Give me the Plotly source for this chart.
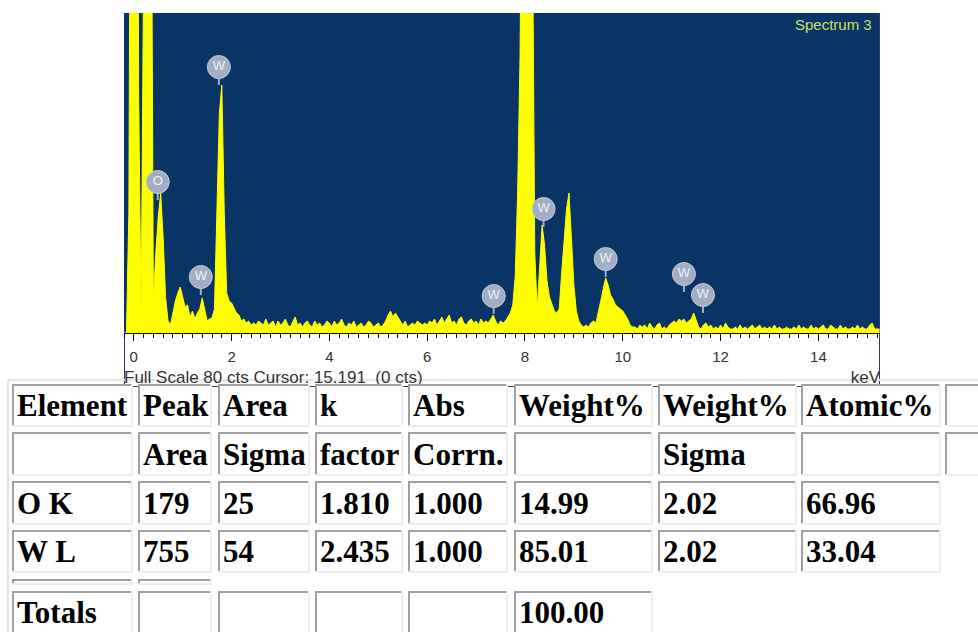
import numpy as np
import plotly.graph_objects as go

W, H = 978, 632

# ---------------- spectrum data ----------------
energy_start_kev = -0.2
channel_kev = 0.05
counts = [
    0, 0, 30, 200,
    260, 250, 60, 3, 90, 300, 300, 150, 8, 20, 29, 35, 24, 9, 3, 2, 5, 8, 10, 11.5,
    9, 6.5, 7, 4, 5.5, 3.5, 5, 6, 8.75, 6, 3, 3.5, 3.75, 6, 30, 55, 62, 30, 10, 8,
    7.5, 6, 5, 4.5, 3, 3.5, 2.5, 3, 2, 2.5, 2, 3, 2.5, 2, 3.5, 2, 2.5, 3, 1.5, 3,
    2, 2.5, 3.5, 2, 1.5, 3, 4, 2, 2.5, 1.5, 2.5, 3, 2, 1.5, 3, 2, 2.5, 1.5, 2, 3,
    2.5, 1.5, 3, 2, 2.5, 3.5, 2, 1.5, 2.5, 2, 3, 1.5, 2, 2.5, 1.5, 2, 3, 2.5, 1.5, 2,
    2.5, 1.5, 2, 3, 4.5, 5.5, 4, 5, 4, 3, 2, 3, 1.5, 2, 2.5, 2, 3, 2.5, 2, 2.5,
    2, 3, 2.5, 3.5, 2, 3, 4, 2.5, 3.5, 4.5, 2.5, 3, 2, 3.5, 4, 2.5, 2, 3, 3.5, 2.5,
    3, 2, 3.5, 2.5, 3, 2.5, 3.5, 4.5, 3, 2, 3, 2.5, 3, 4, 5, 7, 14, 35, 70, 150,
    180, 185, 160, 110, 20, 6, 16, 27, 22, 13, 9, 7, 5.5, 5, 6, 15, 24, 31, 35, 24,
    12, 5.5, 3, 2, 1.5, 2, 1.5, 2.5, 3, 2.5, 5, 8, 11, 13.75, 12, 9.5, 8.5, 7, 6.5, 6,
    5.5, 4.5, 3.5, 2, 1.5, 1.5, 1, 2, 1.5, 2, 1, 2.5, 1.5, 1, 2, 2.5, 1, 1.5, 1, 2,
    2.5, 3, 2.5, 3.5, 3, 3.5, 2.5, 3, 3.5, 5, 3, 1.5, 1, 2, 2.5, 1.5, 2, 1, 1.5, 1,
    2, 1, 2.5, 1.5, 1, 1, 1.5, 1, 2, 1, 1.5, 1, 1.5, 2, 1, 1.5, 2, 1, 1.5, 1,
    1.5, 1, 2, 1, 1.5, 1, 1, 1.5, 1, 1, 1.5, 1, 2, 1, 1.5, 1, 1, 2, 1, 1.5,
    1, 1.5, 2, 1, 1, 2, 1.5, 1, 1, 2, 1, 1.5, 1, 1, 1.5, 1, 2, 1, 1.5, 1,
    1, 2, 2.5, 1, 1, 1,
]
energies = energy_start_kev + channel_kev * np.arange(len(counts))

peak_labels = ["O", "W", "W", "W", "W", "W", "W", "W"]
peak_label_kev = [0.49, 1.74, 1.37, 7.36, 8.38, 9.65, 11.25, 11.64]
peak_label_cts = [37.75, 66.5, 14.0, 9.25, 31.0, 18.5, 14.75, 9.5]

x_tick_vals = [0, 2, 4, 6, 8, 10, 12, 14]
x_tick_text = ["0", "2", "4", "6", "8", "10", "12", "14"]

spectrum_name = "Spectrum 3"
full_scale_text = "Full Scale 80 cts Cursor: 15.191  (0 cts)"
unit_text = "keV"

# ---------------- table data ----------------
header_top = ["Element", "Peak", "Area", "k", "Abs", "Weight%", "Weight%", "Atomic%", ""]
header_sub = ["", "Area", "Sigma", "factor", "Corrn.", "", "Sigma", "", ""]
elements = ["O K", "W L"]
peak_area = ["179", "755"]
area_sigma = ["25", "54"]
k_factor = ["1.810", "2.435"]
abs_corrn = ["1.000", "1.000"]
weight_pct = ["14.99", "85.01"]
weight_sigma = ["2.02", "2.02"]
atomic_pct = ["66.96", "33.04"]
totals_row = ["Totals", "", "", "", "", "100.00"]

# ---------------- layout constants (pixels) ----------------
PLOT_L, PLOT_R, PLOT_T, PLOT_B = 124, 880, 13, 333
X_RANGE = [-0.2, 15.26]
Y_RANGE = [0, 80]
BLUE = "#0a3366"
YELLOW = "#ffff00"
MARK = "#a3aec2"
SANS = "Liberation Sans, Arial, sans-serif"


def px(x):
    return x / W


def py(y):
    return 1 - y / H


def cts_of_py(y):
    return (PLOT_B - y) * (Y_RANGE[1] - Y_RANGE[0]) / (PLOT_B - PLOT_T)


fig = go.Figure()

fig.add_trace(go.Scatter(
    x=energies, y=counts, mode="lines", fill="tozeroy",
    line=dict(color=YELLOW, width=1), fillcolor=YELLOW, hoverinfo="skip",
))

stem = cts_of_py(PLOT_B - 18)
fig.add_trace(go.Scatter(
    x=peak_label_kev, y=peak_label_cts, mode="markers+text", text=peak_labels,
    textposition="middle center",
    textfont=dict(family=SANS, size=13, color="#eef2f8"),
    marker=dict(size=23, color=MARK, line=dict(color="#c3cbd8", width=1)),
    error_y=dict(type="data", symmetric=False, array=[0] * len(peak_labels),
                 arrayminus=[stem] * len(peak_labels), color=MARK, thickness=2, width=0),
    hoverinfo="skip",
))

# strip texts on a full-page pixel overlay axis (plot layer, so table cells cover them)
fig.add_trace(go.Scatter(
    x=[PLOT_L], y=[379], xaxis="x2", yaxis="y2", mode="text", text=[full_scale_text],
    textposition="middle right",
    textfont=dict(family=SANS, size=17, color="#333333"),
    hoverinfo="skip",
))
fig.add_trace(go.Scatter(
    x=[PLOT_R], y=[379], xaxis="x2", yaxis="y2", mode="text", text=[unit_text],
    textposition="middle left",
    textfont=dict(family=SANS, size=17, color="#333333"),
    hoverinfo="skip",
))

shapes = []
# blue plotting background
shapes.append(dict(type="rect", xref="x domain", yref="y domain", x0=0, x1=1, y0=0, y1=1,
                   fillcolor=BLUE, line=dict(width=0), layer="below"))
# frame of the axis strip
FRAME = "#2b3d63"
for (x0, y0, x1, y1) in [(124.5, 333, 124.5, 387), (879.5, 13, 879.5, 387), (124, 386.5, 880, 386.5)]:
    shapes.append(dict(type="line", xref="paper", yref="paper", x0=px(x0), y0=py(y0),
                       x1=px(x1), y1=py(y1), line=dict(color=FRAME, width=1), layer="below"))
# outer table border (light)
OUTER = "#e6e6e6"
for (x0, y0, x1, y1) in [(8, 380, 978, 380), (8, 380, 8, 640)]:
    shapes.append(dict(type="line", xref="paper", yref="paper", x0=px(x0), y0=py(y0),
                       x1=px(x1), y1=py(y1), line=dict(color=OUTER, width=2), layer="below"))

col_edges = [(12, 133), (138, 212), (218, 310), (315, 403), (408, 508),
             (514, 653), (658, 797), (801, 941), (945, 990)]
row_edges = [(384, 427), (432, 476), (481, 525), (530, 573), (579, 585), (591, 634)]

table_rows = [
    header_top,
    header_sub,
    [elements[0], peak_area[0], area_sigma[0], k_factor[0], abs_corrn[0], weight_pct[0], weight_sigma[0], atomic_pct[0]],
    [elements[1], peak_area[1], area_sigma[1], k_factor[1], abs_corrn[1], weight_pct[1], weight_sigma[1], atomic_pct[1]],
    ["", ""],
    totals_row,
]

DARK = "#a0a0a0"
LIGHT = "#ededed"
annotations = []
for (r0, r1), row in zip(row_edges, table_rows):
    for (c0, c1), txt in zip(col_edges, row):
        shapes.append(dict(type="rect", xref="paper", yref="paper", x0=px(c0), x1=px(c1),
                           y0=py(r1), y1=py(r0), fillcolor="white", line=dict(width=0), layer="above"))
        lines = [((c0, r0 + 1), (c1, r0 + 1), DARK), ((c0 + 1, r0), (c0 + 1, r1), DARK),
                 ((c0, r1 - 1), (c1, r1 - 1), LIGHT), ((c1 - 1, r0), (c1 - 1, r1), LIGHT)]
        for (a, b, col) in lines:
            shapes.append(dict(type="line", xref="paper", yref="paper", x0=px(a[0]), y0=py(a[1]),
                               x1=px(b[0]), y1=py(b[1]), line=dict(color=col, width=2), layer="above"))
        if txt:
            annotations.append(dict(
                x=px(c0 + 3), y=py((r0 + r1) / 2), xref="paper", yref="paper",
                xanchor="left", yanchor="middle", text=txt, showarrow=False,
                font=dict(family="Liberation Serif, Times New Roman, serif", size=31,
                          color="black", weight="bold"),
            ))

annotations.append(dict(
    x=px(874), y=py(25), xref="paper", yref="paper", xanchor="right", yanchor="middle",
    text=spectrum_name, showarrow=False,
    font=dict(family=SANS, size=15, color="#c6e26a"),
))

fig.update_layout(
    width=W, height=H, autosize=False,
    margin=dict(l=0, r=0, t=0, b=0, pad=0),
    paper_bgcolor="white", plot_bgcolor="rgba(0,0,0,0)",
    showlegend=False, hovermode=False,
    shapes=shapes, annotations=annotations,
    xaxis=dict(domain=[px(PLOT_L), px(PLOT_R)], range=X_RANGE, showgrid=False, zeroline=False,
               showline=True, linecolor="black", linewidth=1,
               ticks="outside", ticklen=7, tickwidth=1, tickcolor="black",
               tickvals=x_tick_vals, ticktext=x_tick_text, ticklabelstandoff=3,
               tickfont=dict(family=SANS, size=15, color="#333333"),
               minor=dict(dtick=0.2, tick0=0, ticks="outside", ticklen=4, tickcolor="black", showgrid=False),
               fixedrange=True),
    yaxis=dict(domain=[py(PLOT_B), py(PLOT_T)], range=Y_RANGE, visible=False, showgrid=False,
               zeroline=False, fixedrange=True),
    xaxis2=dict(domain=[0, 1], range=[0, W], visible=False, anchor="y2", fixedrange=True),
    yaxis2=dict(domain=[0, 1], range=[H, 0], visible=False, anchor="x2", fixedrange=True),
)

fig.write_html("out.html")
